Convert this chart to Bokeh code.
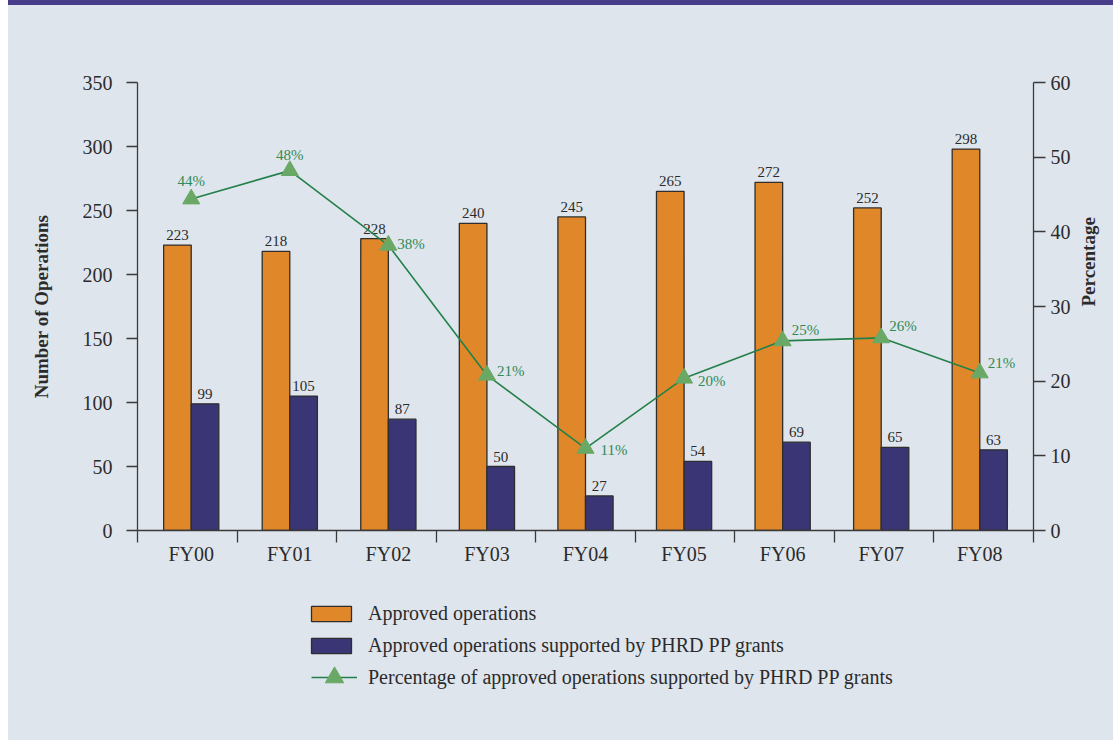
import math
import numpy as np
from bokeh.plotting import figure
from bokeh.models import (Range1d, LinearAxis, FixedTicker, Legend, LegendItem,
                          ColumnDataSource, Div, Spacer)
from bokeh.layouts import column, row
from bokeh.transform import dodge
from bokeh.embed import file_html
from bokeh.resources import INLINE

# ---------------- data ----------------
categories = ["FY00", "FY01", "FY02", "FY03", "FY04", "FY05", "FY06", "FY07", "FY08"]
approved = [223, 218, 228, 240, 245, 265, 272, 252, 298]
supported = [99, 105, 87, 50, 27, 54, 69, 65, 63]
pct = [44.4, 48.2, 38.2, 20.8, 11.0, 20.4, 25.4, 25.8, 21.1]
pct_labels = ["44%", "48%", "38%", "21%", "11%", "20%", "25%", "26%", "21%"]
left_ticks = [0, 50, 100, 150, 200, 250, 300, 350]
right_ticks = [0, 10, 20, 30, 40, 50, 60]
legend_labels = ["Approved operations",
                 "Approved operations supported by PHRD PP grants",
                 "Percentage of approved operations supported by PHRD PP grants"]

# ---------------- styles ----------------
FONT = "Liberation Serif"
BG = "#dfe5ed"
BAND = "#473d8b"
ORANGE = "#e0872a"
NAVY = "#3a3574"
EDGE = "#2e2e2e"
LINE_GREEN = "#23804a"
TRI_GREEN = "#6aa865"
TXT_GREEN = "#2f8a55"
TXT = "#2b2b2b"
AXIS = "#3a3a3a"

# label placement (screen px) for percentage labels
pct_dx = [0, 0, 9, 10, 15, 14, 9, 8, 8]
pct_dy = [-18, -16, -1, -4, 2, 3, -11, -12, -10]
pct_centered = [True, True, False, False, False, False, False, False, False]

n = len(categories)
idx = list(range(n))
pad = 0.045

src = ColumnDataSource(dict(
    x=idx, approved=approved, supported=supported, pct=pct,
    approved_txt=[str(v) for v in approved],
    supported_txt=[str(v) for v in supported],
))

W = 1105
p = figure(width=W, height=575,
           x_range=Range1d(-0.5 - pad, n - 0.5 + pad),
           y_range=Range1d(0, 350),
           output_backend="svg", toolbar_location=None,
           min_border_left=129, min_border_right=W - 129 - 896,
           min_border_top=77, min_border_bottom=50,
           background_fill_color=BG, border_fill_color=BG,
           outline_line_color=None)
p.extra_y_ranges = {"pct": Range1d(0, 60)}
p.xgrid.visible = False
p.ygrid.visible = False

# x axis: labels at category centres, tick marks at boundaries
xa = p.xaxis[0]
xa.ticker = FixedTicker(ticks=idx,
                        minor_ticks=[float(v) for v in np.linspace(-0.5 - pad, n - 0.5 + pad, n + 1)])
xa.major_label_overrides = {i: c for i, c in zip(idx, categories)}
xa.major_tick_out = 0
xa.major_tick_in = 0
xa.minor_tick_out = 12
xa.minor_tick_in = 0
xa.minor_tick_line_color = AXIS
xa.minor_tick_line_width = 1.3
xa.axis_line_color = AXIS
xa.axis_line_width = 1.3
xa.major_label_standoff = 0
xa.major_label_text_font = FONT
xa.major_label_text_font_size = "20px"
xa.major_label_text_color = TXT

# left y axis
ya = p.yaxis[0]
ya.ticker = FixedTicker(ticks=left_ticks)
ya.axis_label = "Number of Operations"
ya.axis_label_text_font = FONT
ya.axis_label_text_font_size = "19px"
ya.axis_label_text_font_style = "bold"
ya.axis_label_text_color = TXT
ya.axis_label_standoff = 28
ya.major_tick_out = 11
ya.major_tick_in = 0
ya.minor_tick_line_color = None
ya.major_tick_line_color = AXIS
ya.major_tick_line_width = 1.3
ya.axis_line_color = AXIS
ya.axis_line_width = 1.3
ya.major_label_standoff = 14
ya.major_label_text_font = FONT
ya.major_label_text_font_size = "20px"
ya.major_label_text_color = TXT

# right y axis
ra = LinearAxis(y_range_name="pct", ticker=FixedTicker(ticks=right_ticks),
                axis_label="Percentage")
ra.axis_label_text_font = FONT
ra.axis_label_text_font_size = "19px"
ra.axis_label_text_font_style = "bold"
ra.axis_label_text_color = TXT
ra.axis_label_standoff = 15
ra.major_tick_out = 12
ra.major_tick_in = 0
ra.minor_tick_line_color = None
ra.major_tick_line_color = AXIS
ra.major_tick_line_width = 1.3
ra.axis_line_color = AXIS
ra.axis_line_width = 1.3
ra.major_label_standoff = 5
ra.major_label_text_font = FONT
ra.major_label_text_font_size = "20px"
ra.major_label_text_color = TXT
try:
    ra.axis_label_orientation = math.pi / 2
except Exception:
    pass
p.add_layout(ra, "right")

# bars
p.vbar(x=dodge("x", -0.14, range=p.x_range), top="approved", width=0.28,
       source=src, fill_color=ORANGE, line_color=EDGE, line_width=1.3)
p.vbar(x=dodge("x", 0.14, range=p.x_range), top="supported", width=0.28,
       source=src, fill_color=NAVY, line_color=EDGE, line_width=1.3)

# bar value labels
for col, txt, off in (("approved", "approved_txt", -0.14), ("supported", "supported_txt", 0.14)):
    p.text(x=dodge("x", off, range=p.x_range), y=col, text=txt, source=src,
           text_font=FONT, text_font_size="15px", text_color=TXT,
           text_align="center", text_baseline="alphabetic", y_offset=-10)

# percentage line
p.line(x="x", y="pct", source=src, y_range_name="pct",
       line_color=LINE_GREEN, line_width=1.6)
p.scatter(x="x", y="pct", source=src, y_range_name="pct", marker="triangle",
          size=17, fill_color=TRI_GREEN, line_color=TRI_GREEN)

for centered in (True, False):
    sel = [i for i in idx if pct_centered[i] == centered]
    s = ColumnDataSource(dict(
        x=[idx[i] for i in sel], y=[pct[i] for i in sel],
        t=[pct_labels[i] for i in sel],
        dx=[pct_dx[i] for i in sel], dy=[pct_dy[i] for i in sel]))
    p.text(x="x", y="y", text="t", source=s, y_range_name="pct",
           x_offset="dx", y_offset="dy",
           text_font=FONT, text_font_size="15px", text_color=TXT_GREEN,
           text_align="center" if centered else "left", text_baseline="middle")

# ---------------- legend panel (separate figure below the chart) ----------------
LH = 160
p2 = figure(width=W, height=LH, x_range=Range1d(0, 1), y_range=Range1d(0, 1),
            output_backend="svg", toolbar_location=None,
            min_border_left=0, min_border_right=0, min_border_top=0, min_border_bottom=0,
            x_axis_location=None, y_axis_location=None,
            background_fill_color=BG, border_fill_color=BG, outline_line_color=None)
p2.xgrid.visible = False
p2.ygrid.visible = False
# legend-only proxies: a single non-finite row, so nothing is drawn in the plot
proxy = ColumnDataSource(dict(x=[float("nan")], y=[float("nan")]))
g1 = p2.vbar(x="x", top="y", width=0.28, source=proxy,
             fill_color=ORANGE, line_color=EDGE, line_width=1.3)
g2 = p2.vbar(x="x", top="y", width=0.28, source=proxy,
             fill_color=NAVY, line_color=EDGE, line_width=1.3)
g3 = p2.line(x="x", y="y", source=proxy, line_color=LINE_GREEN, line_width=1.6)
g4 = p2.scatter(x="x", y="y", source=proxy, marker="triangle",
                fill_color=TRI_GREEN, line_color=TRI_GREEN)

common = dict(orientation="vertical", padding=0, margin=0,
              background_fill_alpha=0, border_line_alpha=0,
              label_text_font=FONT, label_text_font_size="20px",
              label_text_color=TXT)
leg1 = Legend(items=[LegendItem(label=legend_labels[0], renderers=[g1]),
                     LegendItem(label=legend_labels[1], renderers=[g2])],
              location=(169, LH - 77), glyph_width=50, glyph_height=19,
              label_standoff=12, spacing=9, **common)
leg2 = Legend(items=[LegendItem(label=legend_labels[2], renderers=[g3, g4])],
              location=(174, LH - 120), glyph_width=46, glyph_height=46,
              label_standoff=11, spacing=0, **common)
p2.add_layout(leg1)
p2.add_layout(leg2)

band = Div(text="", width=W, height=5, margin=(0, 0, 0, 0),
           styles={"background-color": BAND})
layout = row(Spacer(width=8, height=5 + 575 + LH),
             column(band, p, p2, spacing=0, styles={"background-color": BG}),
             spacing=0)

open("out.html", "w").write(file_html(layout, INLINE))
